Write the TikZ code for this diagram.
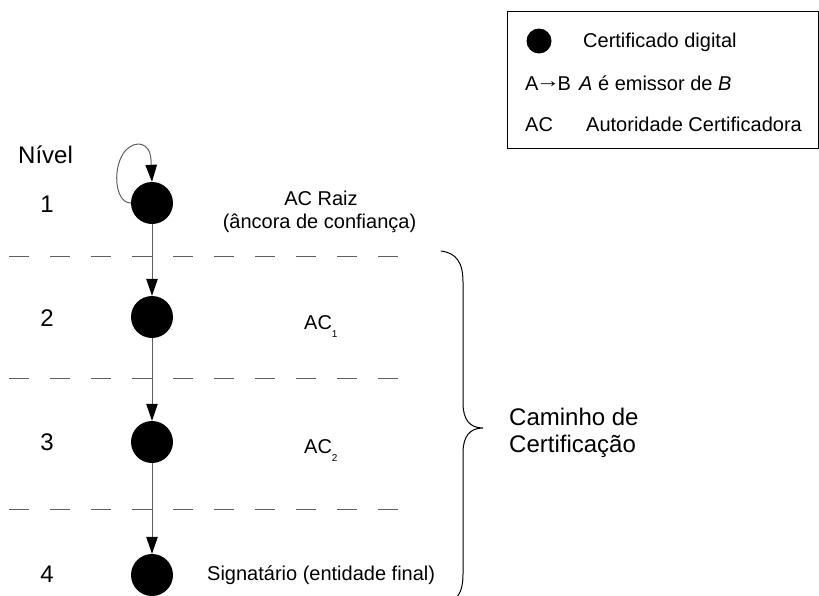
\documentclass[tikz,border=0pt]{standalone}
\usepackage{fontspec}
\setmainfont{Liberation Sans}
\usetikzlibrary{arrows.meta}
\definecolor{linegray}{RGB}{95,95,95}
\tikzset{
  cert/.style={circle,fill=black,minimum size=42pt,inner sep=0pt},
  legdot/.style={circle,fill=black,minimum size=25pt,inner sep=0pt},
  issue/.style={draw=linegray,line width=1pt,-{Triangle[length=17pt,width=11.5pt,color=black]}},
  levelsep/.style={draw=linegray,line width=1pt,dash pattern=on 20pt off 21pt},
  lbl/.style={inner sep=0pt,font=\fontsize{20}{24}\selectfont},
  big/.style={inner sep=0pt,font=\fontsize{24}{27}\selectfont},
}
\begin{document}
\begin{tikzpicture}[x=1pt,y=-1pt]
\useasboundingbox (0,0) rectangle (819,595);
\clip (0,0) rectangle (819,595);
% legend
\node[draw=black,line width=1pt,minimum width=311pt,minimum height=137pt,anchor=north west,inner sep=0pt] (legend) at (507,11) {};
\node[legdot] (ldot) at (539,41) {};
\node[lbl,anchor=base west] (l1) at (583,47) {Certificado digital};
\node[lbl,anchor=base west] (l2a) at (525,90) {A\kern-2.5pt\raisebox{2.5pt}{\scalebox{1.2}[1]{→}}\kern-2.5pt B};
\node[lbl,anchor=base west] (l2b) at (579,90) {\textit{A} é emissor de \textit{B}};
\node[lbl,anchor=base west] (l3a) at (525,131) {AC};
\node[lbl,anchor=base west] (l3b) at (586,131) {Autoridade Certificadora};
% levels
\node[big,anchor=base west] (nivel) at (18,163) {Nível};
\node[big] (n1) at (47,204) {1};
\node[big] (n2) at (47,318) {2};
\node[big] (n3) at (47,442) {3};
\node[big] (n4) at (47,574) {4};
% separators
\coordinate (s1a) at (9,256); \coordinate (s1b) at (400,256);
\coordinate (s2a) at (9,378); \coordinate (s2b) at (400,378);
\coordinate (s3a) at (9,509); \coordinate (s3b) at (400,509);
\draw[levelsep] (s1a) -- (s1b);
\draw[levelsep] (s2a) -- (s2b);
\draw[levelsep] (s3a) -- (s3b);
% certificates
\node[cert] (d1) at (152,203) {};
\node[cert] (d2) at (152,317) {};
\node[cert] (d3) at (152,442) {};
\node[cert] (d4) at (152,575) {};
\draw[issue] (d1.west) .. controls (114,203) and (112,165) .. (126,150)
   .. controls (136,140) and (150,142) .. (151,160) -- (d1.north);
\draw[issue] (d1) -- (d2);
\draw[issue] (d2) -- (d3);
\draw[issue] (d3) -- (d4);
% labels
\node[lbl,anchor=base] (raiz) at (321,205) {AC Raiz};
\node[lbl,anchor=base] (ancora) at (319.5,228) {(âncora de confiança)};
\node[lbl,anchor=base west] (ac1) at (304,329) {AC\raisebox{-8pt}{\fontsize{10}{10}\selectfont 1}};
\node[lbl,anchor=base west] (ac2) at (304,453) {AC\raisebox{-8pt}{\fontsize{10}{10}\selectfont 2}};
\node[lbl,anchor=base west] (sig) at (207,580) {Signatário (entidade final)};
% brace
\coordinate (btop) at (441,251);
\coordinate (btip) at (483,428);
\coordinate (bbot) at (441,605);
\draw[line width=1pt,black] (btop) .. controls (456,253) and (463,262) .. (463,282)
  -- (463,403) .. controls (463,420) and (470,428) .. (btip)
  .. controls (470,428) and (463,436) .. (463,453)
  -- (463,574) .. controls (463,594) and (456,603) .. (bbot);
\node[big,anchor=base west] (cam1) at (509,425) {Caminho de};
\node[big,anchor=base west] (cam2) at (509,452) {Certificação};
\end{tikzpicture}
\end{document}
